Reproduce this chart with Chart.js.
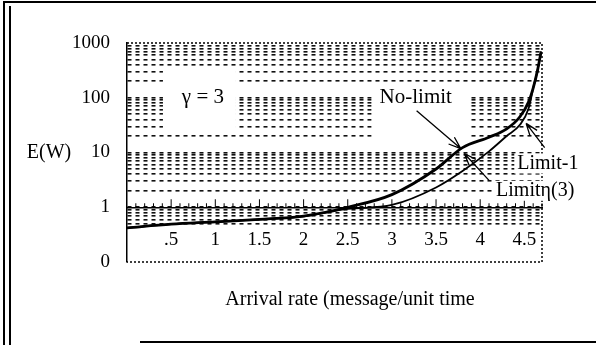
<!DOCTYPE html>
<html>
<head>
<meta charset="utf-8">
<script src="https://cdn.jsdelivr.net/npm/chart.js@4.4.0/dist/chart.umd.min.js"></script>
<style>
  html, body { margin: 0; padding: 0; background: #fff; }
  #wrap { width: 596px; height: 345px; }
</style>
</head>
<body>
<div id="wrap"><canvas id="myChart" width="596" height="345"></canvas></div>
<script>
// values
const arrivalRate = [0, 0.5, 1, 1.5, 2, 2.5, 3, 3.5, 3.8, 4.1, 4.3, 4.45, 4.55, 4.6, 4.65, 4.69];
const noLimit = [0.42, 0.49, 0.54, 0.6, 0.69, 1.0, 1.7, 5.0, 12.3, 19, 27, 45, 85, 150, 320, 700];
const limitEta3 = [0.42, 0.49, 0.54, 0.6, 0.68, 0.93, 1.1, 2.3, 4.6, 10.5, 20, 32, 65, 150, 320, 700];

const xTicks = [0.5, 1, 1.5, 2, 2.5, 3, 3.5, 4, 4.5];
const xTickLabels = [".5", "1", "1.5", "2", "2.5", "3", "3.5", "4", "4.5"];
const yTicks = [0.1, 1, 10, 100, 1000];
const yTickLabels = ["0", "1", "10", "100", "1000"];

const SERIF = '"Liberation Serif", "DejaVu Serif", serif';

const toPoints = (ys) => arrivalRate.map((x, i) => ({ x: x, y: ys[i] }));

// every log step 1..9 per decade, for the dashed grid
const yGridTicks = [];
yTicks.slice(0, -1).forEach(d => {
  for (let m = 1; m <= 9; m++) yGridTicks.push(+(m * d).toPrecision(3));
});
yGridTicks.push(yTicks[yTicks.length - 1]);

// text notes, anchored in data units; "under" boxes sit below the curves
const notes = [
  { text: "\u03b3 = 3", x: 0.86, y: 100, align: "center", box: [-40, -31, 33, 33], size: 21, under: true },
  { text: "No-limit", x: 3.27, y: 100, align: "center", box: [-44, -12, 53, 48], size: 21, under: true },
  { text: "Limit-1", x: 4.42, y: 6.3, align: "left", box: [-3, -10, 72, 10], size: 20, under: false },
  { text: "Limit\u03b7(3)", x: 4.18, y: 2.0, align: "left", box: [-3, -10, 90, 10], size: 20, under: false },
];
const arrows = [
  { from: [3.28, 58], to: [3.78, 11.8] },
  { from: [4.10, 3.1], to: [3.82, 9.6] },
  { from: [4.73, 12.3], to: [4.52, 34] },
];

const fillBox = (ctx, x, y, n) => {
  const px = x.getPixelForValue(n.x), py = y.getPixelForValue(n.y);
  const [l, t, r, b] = n.box;
  ctx.fillStyle = "#fff";
  ctx.fillRect(px + l, py + t, r - l, b - t);
};

const decorations = {
  id: "decorations",
  beforeDraw(chart) {
    const ctx = chart.ctx;
    ctx.save();
    ctx.fillStyle = "#fff";
    ctx.fillRect(0, 0, chart.width, chart.height);
    ctx.restore();
  },
  beforeDatasetsDraw(chart) {
    const { ctx, scales: { x, y } } = chart;
    ctx.save();
    notes.filter(n => n.under).forEach(n => fillBox(ctx, x, y, n));
    ctx.restore();
  },
  afterDraw(chart) {
    const { ctx, chartArea: a, scales: { x, y } } = chart;
    ctx.save();

    // dotted frame of the plot
    ctx.strokeStyle = "#000";
    ctx.lineWidth = 1.5;
    ctx.setLineDash([2, 2]);
    ctx.beginPath();
    ctx.moveTo(a.left, a.top); ctx.lineTo(a.right, a.top);
    ctx.lineTo(a.right, a.bottom); ctx.lineTo(a.left, a.bottom);
    ctx.stroke();
    ctx.setLineDash([]);

    // small upward ticks on the axis at y = 1
    const y1 = y.getPixelForValue(1);
    ctx.lineWidth = 1;
    for (let i = 1; i * 0.1 <= x.max + 1e-9; i++) {
      const px = x.getPixelForValue(i * 0.1);
      const len = i % 5 === 0 ? 8 : 4;
      ctx.beginPath();
      ctx.moveTo(px, y1); ctx.lineTo(px, y1 - len);
      ctx.stroke();
    }

    // notes
    notes.filter(n => !n.under).forEach(n => fillBox(ctx, x, y, n));
    ctx.fillStyle = "#000";
    ctx.textBaseline = "middle";
    notes.forEach(n => {
      ctx.font = n.size + "px " + SERIF;
      ctx.textAlign = n.align;
      ctx.fillText(n.text, x.getPixelForValue(n.x), y.getPixelForValue(n.y));
    });

    // arrows
    ctx.lineWidth = 1.3;
    arrows.forEach(ar => {
      const x0 = x.getPixelForValue(ar.from[0]), y0 = y.getPixelForValue(ar.from[1]);
      const x1 = x.getPixelForValue(ar.to[0]), y1a = y.getPixelForValue(ar.to[1]);
      const ang = Math.atan2(y1a - y0, x1 - x0);
      ctx.beginPath();
      ctx.moveTo(x0, y0); ctx.lineTo(x1, y1a);
      [-0.35, 0.35].forEach(d => {
        ctx.moveTo(x1, y1a);
        ctx.lineTo(x1 - 13 * Math.cos(ang + d), y1a - 13 * Math.sin(ang + d));
      });
      ctx.stroke();
    });

    // axis titles
    ctx.fillStyle = "#000";
    ctx.font = "20px " + SERIF;
    ctx.textAlign = "center";
    ctx.fillText("E(W)", 49, y.getPixelForValue(10));
    ctx.fillText("Arrival rate (message/unit time", 350, 300);

    // outer frame of the scanned figure
    ctx.lineWidth = 2;
    ctx.beginPath();
    ctx.moveTo(3, 2); ctx.lineTo(chart.width, 2);
    ctx.moveTo(4, 2); ctx.lineTo(4, chart.height);
    ctx.moveTo(10, 6); ctx.lineTo(10, chart.height);
    ctx.moveTo(140, 342); ctx.lineTo(chart.width, 342);
    ctx.stroke();
    ctx.restore();
  }
};

new Chart(document.getElementById("myChart"), {
  type: "line",
  data: {
    datasets: [
      {
        label: "No-limit",
        data: toPoints(noLimit),
        borderColor: "#000",
        borderWidth: 2.8,
        pointRadius: 0,
        cubicInterpolationMode: "monotone",
      },
      {
        label: "Limit\u03b7(3)",
        data: toPoints(limitEta3),
        borderColor: "#000",
        borderWidth: 1.8,
        pointRadius: 0,
        cubicInterpolationMode: "monotone",
      },
    ],
  },
  options: {
    responsive: false,
    animation: false,
    layout: { padding: { left: 0, top: 43, right: 54, bottom: 83 } },
    plugins: { legend: { display: false }, tooltip: { enabled: false } },
    scales: {
      x: {
        type: "linear",
        position: { y: 1 },
        min: 0,
        max: 4.7,
        afterBuildTicks: (s) => { s.ticks = xTicks.map(v => ({ value: v })); },
        grid: { display: false, drawTicks: false },
        border: { display: true, color: "#000", width: 1.5 },
        ticks: {
          padding: 21,
          color: "#000",
          autoSkip: false,
          maxRotation: 0,
          font: { family: SERIF, size: 19 },
          callback: (v, i) => xTickLabels[i],
        },
      },
      y: {
        type: "logarithmic",
        min: 0.1,
        max: 1000,
        afterBuildTicks: (s) => { s.ticks = yGridTicks.map(v => ({ value: v })); },
        afterFit: (s) => { s.width = 127; },
        grid: {
          drawTicks: false,
          lineWidth: 1.6,
          color: (c) => {
            const v = c.tick ? c.tick.value : 0;
            return v < 0.45 || v >= 1000 ? "rgba(0,0,0,0)" : "#111";
          },
        },
        border: { display: true, color: "#000", width: 1.5, dash: [4, 4] },
        ticks: {
          padding: 17,
          color: "#000",
          autoSkip: false,
          font: { family: SERIF, size: 19 },
          callback: (v) => {
            const i = yTicks.findIndex(t => Math.abs(t - v) < 1e-9);
            return i < 0 ? "" : yTickLabels[i];
          },
        },
      },
    },
  },
  plugins: [decorations],
});
</script>
</body>
</html>
